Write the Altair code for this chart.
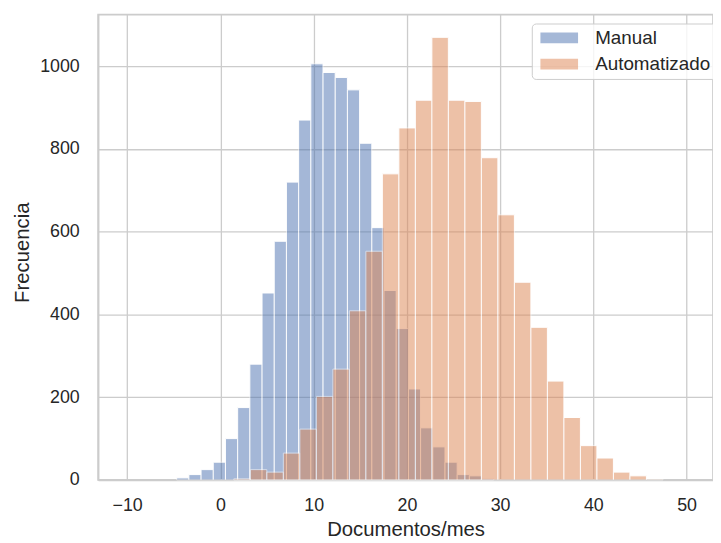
import altair as alt
import pandas as pd
import numpy as np

# ---- data ----
series_names = ["Manual", "Automatizado"]
series_colors = ["#4c72b0", "#dd8452"]

manual_first_edge = -4.69
manual_bin_width = 1.308
manual_counts = [5, 13, 25, 43, 100, 175, 280, 452, 577, 720, 870, 1006, 985, 973,
                 943, 814, 610, 458, 366, 220, 126, 80, 43, 13, 10, 3]

auto_first_edge = 1.44
auto_bin_width = 1.77
auto_counts = [3, 25, 19, 65, 123, 202, 268, 409, 553, 740, 851, 918, 1070, 918,
               915, 779, 641, 478, 369, 239, 151, 83, 53, 19, 10, 2]

x_ticks = [-10, 0, 10, 20, 30, 40, 50]
y_ticks = [0, 200, 400, 600, 800, 1000]


def hist_rows(name, first, width, counts):
    rows = []
    for i, c in enumerate(counts):
        x0 = first + i * width
        rows.append({"serie": name, "order": series_names.index(name),
                     "x0": x0, "x1": x0 + width, "count": c})
    return rows


df = pd.DataFrame(
    hist_rows("Manual", manual_first_edge, manual_bin_width, manual_counts)
    + hist_rows("Automatizado", auto_first_edge, auto_bin_width, auto_counts)
)

FONT = "Liberation Sans"
TXT = "#262626"
GRID = "#cccccc"

chart = (
    alt.Chart(df)
    .mark_rect(opacity=0.5, stroke="white", strokeWidth=1)
    .encode(
        x=alt.X("x0:Q",
                scale=alt.Scale(domain=[-13.115, 52.83], nice=False, zero=False),
                axis=alt.Axis(title="Documentos/mes", values=x_ticks, ticks=False,
                              labelPadding=17, format="d",
                              labelExpr="replace(datum.label, '-', '\u2212')",
                              titleBaseline="alphabetic", titleY=56)),
        x2="x1:Q",
        y=alt.Y("count:Q",
                scale=alt.Scale(domain=[0, 1125], nice=False),
                axis=alt.Axis(title="Frecuencia", values=y_ticks, ticks=False,
                              labelPadding=19, format="d",
                              titleBaseline="alphabetic", titleX=-70.7, titleY=240,
                              titleAngle=-90)),
        y2=alt.datum(0),
        color=alt.Color("serie:N",
                        scale=alt.Scale(domain=series_names, range=series_colors),
                        legend=alt.Legend(
                            title=None, orient="none", legendX=438, legendY=9,
                            symbolType="M-0.61,-0.58H3.39V0.58H-0.61Z", symbolSize=361,
                            symbolOpacity=0.5, symbolStrokeWidth=0,
                            labelFont=FONT, labelFontSize=19, labelColor=TXT,
                            labelOffset=40, rowPadding=6.5, padding=5,
                            strokeColor=GRID, cornerRadius=4,
                            fillColor="rgba(255,255,255,0.8)")),
        order=alt.Order("order:Q"),
    )
    .properties(width=621, height=470, background="white",
                autosize=alt.AutoSizeParams(type="none"),
                padding={"left": 91, "top": 4, "right": 0, "bottom": 60})
    .configure_view(stroke=GRID, strokeWidth=1.7)
    .configure_axis(
        labelFont=FONT, labelFontSize=18, labelColor=TXT,
        titleFont=FONT, titleFontSize=20.5, titleColor=TXT, titleFontWeight="normal",
        gridColor=GRID, gridWidth=1.3, domainColor=GRID, domainWidth=1.7,
    )
)

chart.save("out.html", embed_options={"renderer": "svg", "actions": False})
